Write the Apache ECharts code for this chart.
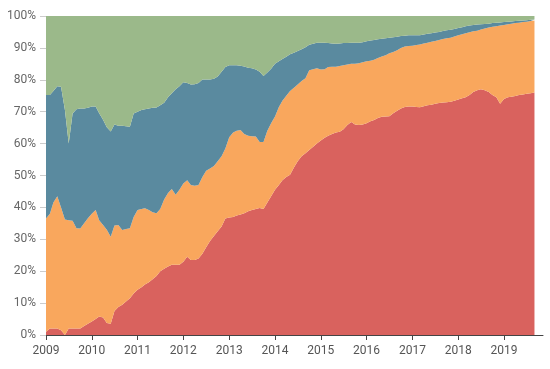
<!DOCTYPE html>
<html>
<head>
<meta charset="utf-8">
<script src="https://cdn.jsdelivr.net/npm/echarts@6/dist/echarts.min.js"></script>
<style>html,body{margin:0;padding:0;background:#fff}#c{width:550px;height:369px}</style>
</head>
<body>
<div id="c"></div>
<script>
// Monthly samples, Jan 2009 .. Sep 2019
var startYear = 2009, monthCount = 129;
var months = [];
for (var i = 0; i < monthCount; i++) {
  var y = startYear + Math.floor(i / 12), m = (i % 12) + 1;
  months.push(y + '-' + (m < 10 ? '0' + m : m) + '-01');
}
var yTicks = ['0%','10%','20%','30%','40%','50%','60%','70%','80%','90%','100%'];

var redShare = [1,2,2,2,1.5,0,2,2,2,2,2.8,3.5,
4.2,5,5.8,5.5,3.8,3.5,7.5,8.8,9.5,10.5,11.5,13,
14.2,15,15.8,16.5,17.5,18.5,20,20.8,21.5,22,22,22,
23,24.5,23.5,23.5,24,25.5,27.5,29.5,31,32.5,34,36.5,
36.8,37,37.5,37.8,38.2,38.8,39.2,39.5,39.8,39.5,41.5,43.5,
45.5,47,48.5,49.5,50.2,52.5,54.5,56,57,58,59,60,
61,61.8,62.5,63,63.5,63.7,64.5,65.8,66.8,66,65.8,66,
66.4,67,67.4,68,68.4,68.5,68.6,69.5,70.3,71,71.5,71.6,
71.6,71.5,71.4,71.7,72,72.2,72.5,72.7,72.9,73,73.1,73.4,
73.8,74.2,74.5,75.2,76.2,76.7,77,76.7,76.2,75.2,74.5,72.5,
74,74.5,74.7,74.9,75.2,75.4,75.6,75.8,76];

var orangeShare = [35.5,36,39.5,41.5,38.5,36.2,34,33.8,31.5,31.4,32.2,33.1,
33.8,34.2,30.2,29,29.2,27.3,26.8,25.7,23.4,22.7,22,24,
25,24.5,23.9,22.7,21,19.7,19.5,21.7,23,23.8,22,23.5,
24.5,24,23.5,23.3,23,24,24,22.7,22,22,22,22,
25.2,26.5,26.5,26.5,24.8,23.7,23.1,22.7,20.7,21,22.5,22.9,
23,24.5,24.9,25.5,26.3,25,24,23.6,23.5,25,24.3,23.6,
22.2,21.5,21.5,21.1,20.6,20.6,20.1,19,18.2,19,19.4,19.5,
19.4,19,18.9,18.8,18.9,19.2,19.7,19.2,19,19,18.9,19,
19.1,19.4,19.7,19.7,19.6,19.7,19.7,19.8,19.9,20,20.1,20.2,
20.2,20.1,20.1,19.7,19,18.7,18.8,19.4,20.2,21.4,22.3,24.5,
23.2,22.9,22.9,22.9,22.7,22.7,22.6,22.6,22.6];

var blueShare = [38.7,37.2,35,34.5,37.8,34.3,24,33.6,37.3,37.6,36,34.6,
33.6,32.4,33.5,33,32.1,33,31.7,31.1,32.7,32.2,31.8,32.4,
30.8,31,31.1,31.8,32.7,33.1,32.5,30.3,30,30,33,32.5,
31.7,30.5,31.5,31.8,32,30.6,28.6,27.9,27.3,26.5,26.5,25.5,
22.6,21.1,20.6,20.1,21.2,21.3,21.3,21,22,20.7,18.3,17.1,
16.5,14.3,13.1,12.2,11.5,11,10.5,10,9.7,8,8,8,
8.4,8.3,7.5,7.3,7.2,7.1,6.9,6.7,6.6,6.6,6.4,6.3,
6.3,6.3,6.2,5.9,5.6,5.3,4.9,4.6,4.2,3.7,3.4,3.4,
3.3,3.1,2.9,2.8,2.8,2.7,2.6,2.5,2.5,2.5,2.5,2.3,
2.2,2.2,2.2,2.1,2,1.9,1.6,1.4,1.2,1.2,1.1,1,
0.9,0.8,0.7,0.6,0.6,0.5,0.5,0.4,0.3];

var greenShare = [24.8,24.8,23.5,22,22.2,29.5,40,30.6,29.2,29,29,28.8,
28.4,28.4,30.5,32.5,34.9,36.2,34,34.4,34.4,34.6,34.7,30.6,
30,29.5,29.2,29,28.8,28.7,28,27.2,25.5,24.2,23,22,
20.8,21,21.5,21.4,21,19.9,19.9,19.9,19.7,19,17.5,16,
15.4,15.4,15.4,15.6,15.8,16.2,16.4,16.8,17.5,18.8,17.7,16.5,
15,14.2,13.5,12.8,12,11.5,11,10.4,9.8,9,8.7,8.4,
8.4,8.4,8.5,8.6,8.7,8.6,8.5,8.5,8.4,8.4,8.4,8.2,
7.9,7.7,7.5,7.3,7.1,7,6.8,6.7,6.5,6.3,6.2,6,
6,6,6,5.8,5.6,5.4,5.2,5,4.7,4.5,4.3,4.1,
3.8,3.5,3.2,3,2.8,2.7,2.6,2.5,2.4,2.2,2.1,2,
1.9,1.8,1.7,1.6,1.5,1.4,1.3,1.2,1.1];

var seriesNames = ['Red', 'Orange', 'Blue', 'Green'];
var seriesColors = ['#d9625e', '#f9a75d', '#5a8a9f', '#9bb98a'];
var seriesValues = [redShare, orangeShare, blueShare, greenShare];

function pair(vals) {
  return vals.map(function (v, i) { return [months[i], v]; });
}

var chart = echarts.init(document.getElementById('c'), null, {renderer: 'canvas'});
chart.setOption({
  animation: false,
  grid: {left: 46, right: 7, top: 16, bottom: 34},
  xAxis: {
    type: 'time',
    min: '2009-01-01',
    max: '2019-11-08',
    minInterval: 365 * 24 * 3600 * 1000,
    maxInterval: 366 * 24 * 3600 * 1000,
    splitLine: {show: false},
    axisLine: {lineStyle: {color: '#444', width: 1}},
    axisTick: {show: true, length: 5, lineStyle: {color: '#444'}},
    axisLabel: {color: '#555', fontSize: 12, fontFamily: 'Roboto', margin: 10,
      formatter: function (v) { return new Date(v).getFullYear() + ''; },
      showMinLabel: true, showMaxLabel: false}
  },
  yAxis: {
    type: 'value',
    min: 0, max: 100, interval: 10,
    splitLine: {show: false},
    axisLine: {show: false},
    axisTick: {show: true, length: 6, lineStyle: {color: '#ccc'}},
    axisLabel: {color: '#666', fontSize: 12, fontFamily: 'Roboto', margin: 10,
      formatter: function (v) { return yTicks[Math.round(v / 10)]; }}
  },
  series: seriesNames.map(function (n, k) {
    return {
      name: n, type: 'line', stack: 'share',
      data: pair(seriesValues[k]),
      showSymbol: false, symbol: 'none',
      lineStyle: {width: 0},
      areaStyle: {color: seriesColors[k], opacity: 1},
      itemStyle: {color: seriesColors[k]},
      z: 2
    };
  })
});
</script>
</body>
</html>
